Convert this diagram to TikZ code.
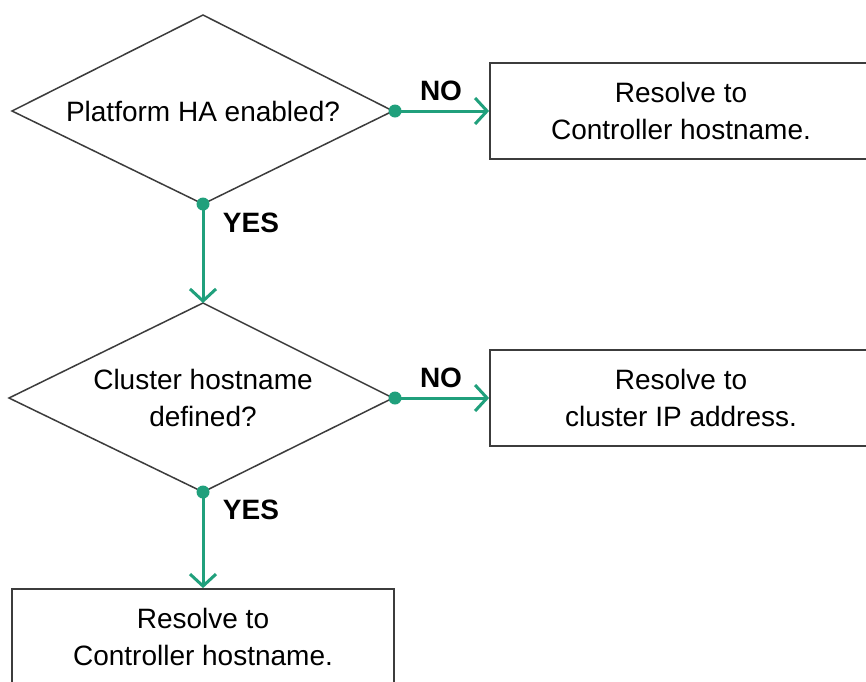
\documentclass[tikz,border=0pt]{standalone}
\usepackage{fontspec}
\setmainfont{Liberation Sans}
\usetikzlibrary{arrows.meta}
\definecolor{flowgreen}{RGB}{32,160,124}
\definecolor{edgegray}{RGB}{60,60,60}
\begin{document}
\begin{tikzpicture}[x=1pt,y=-1pt,
  txt/.style={font=\fontsize{28}{37}\selectfont, align=center},
  diamondline/.style={draw=edgegray, line width=1.5pt, line join=miter},
  action/.style={txt, draw=edgegray, line width=1.8pt, rectangle, inner sep=0pt,
     minimum width=382pt, minimum height=96pt},
  flow/.style={draw=flowgreen, line width=3pt, -{Straight Barb[length=12pt,width=26pt]}},
  dot/.style={fill=flowgreen},
  lbl/.style={font=\fontsize{28}{34}\selectfont\bfseries, text=black, inner sep=0pt}]
\clip (0,0) rectangle (866,681);
\fill[white] (0,0) rectangle (866,681);

% decision 1
\coordinate (d1t) at (203,15);
\coordinate (d1l) at (12,111);
\coordinate (d1r) at (393,111);
\coordinate (d1b) at (203,204);
\draw[diamondline] (d1t) -- (d1r) -- (d1b) -- (d1l) -- cycle;
\node[txt] (d1) at (203,111) {Platform HA enabled?};

% decision 2
\coordinate (d2t) at (203,303);
\coordinate (d2l) at (9,398);
\coordinate (d2r) at (393,398);
\coordinate (d2b) at (203,492);
\draw[diamondline] (d2t) -- (d2r) -- (d2b) -- (d2l) -- cycle;
\node[txt] (d2) at (203,398) {Cluster hostname\\defined?};

\node[action] (b1) at (681,111) {Resolve to\\Controller hostname.};
\node[action] (b2) at (681,398) {Resolve to\\cluster IP address.};
\node[action] (b3) at (203,637) {Resolve to\\Controller hostname.};

\draw[flow] (d1r) -- (d1r -| b1.west);
\draw[flow] (d1b) -- (d2t);
\draw[flow] (d2r) -- (d2r -| b2.west);
\draw[flow] (d2b) -- (d2b |- b3.north);

\fill[dot] (d1r) ++(2,0) circle (6.5);
\fill[dot] (d1b) circle (6.5);
\fill[dot] (d2r) ++(2,0) circle (6.5);
\fill[dot] (d2b) circle (6.5);

\node[lbl] (no1) at (441,91) {NO};
\node[lbl] (yes1) at (251,223) {YES};
\node[lbl] (no2) at (441,378) {NO};
\node[lbl] (yes2) at (251,510) {YES};
\end{tikzpicture}
\end{document}
